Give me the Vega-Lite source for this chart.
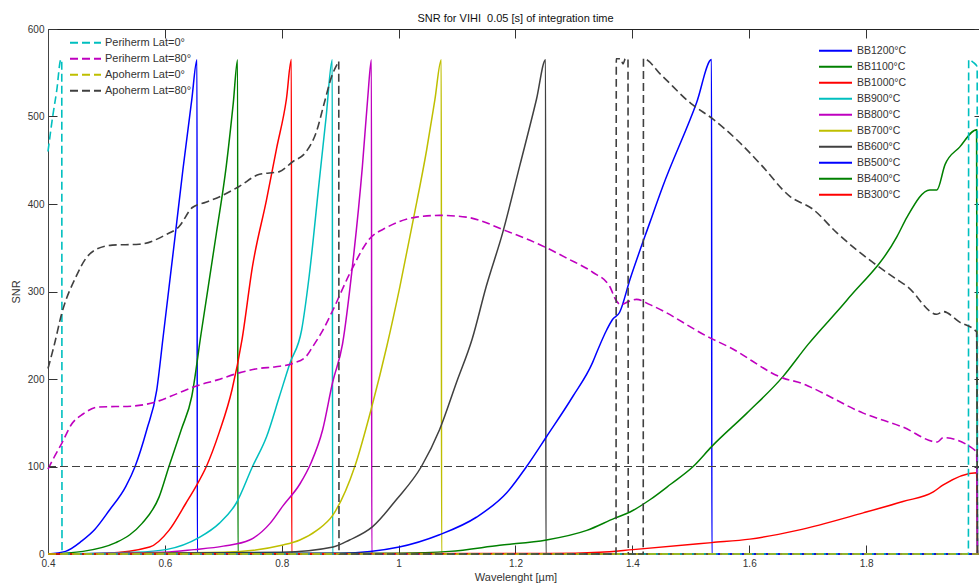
{
  "$schema": "https://vega.github.io/schema/vega-lite/v6.json",
  "width": 935,
  "height": 525,
  "autosize": {"type": "none"},
  "padding": {"left": 48, "top": 29, "right": 0, "bottom": 31},
  "background": "white",
  "title": {"text": "SNR for VIHI \u00a00.05 [s] of integration time", "font": "Liberation Sans", "fontSize": 11, "fontWeight": "normal", "color": "#111", "offset": 7, "baseline": "alphabetic", "anchor": "middle", "frame": "group", "dy": 16},
  "config": {
    "view": {"stroke": null},
    "axis": {"grid": false, "labelFont": "Liberation Sans", "titleFont": "Liberation Sans", "labelColor": "#333", "titleColor": "#333", "tickColor": "#333", "domainColor": "#444", "labelFontSize": 10, "titleFontSize": 11, "titleFontWeight": "normal", "labelFlush": false, "labelOverlap": false},
    "legend": {"labelFont": "Liberation Sans", "labelColor": "#333", "padding": 0, "title": null, "symbolType": "stroke", "symbolStrokeWidth": 2, "rowPadding": 0}
  },
  "datasets": {
    "bb": [
      {"s":"BB1200°C","x":0.4,"y":0},{"s":"BB1200°C","x":0.43,"y":3},{"s":"BB1200°C","x":0.458,"y":15},{"s":"BB1200°C","x":0.48,"y":28},{"s":"BB1200°C","x":0.505,"y":50},{"s":"BB1200°C","x":0.533,"y":77},{"s":"BB1200°C","x":0.549,"y":100},{"s":"BB1200°C","x":0.569,"y":142},{"s":"BB1200°C","x":0.586,"y":187},{"s":"BB1200°C","x":0.597,"y":248},{"s":"BB1200°C","x":0.618,"y":366},{"s":"BB1200°C","x":0.631,"y":440},{"s":"BB1200°C","x":0.646,"y":519},{"s":"BB1200°C","x":0.655,"y":565},{"s":"BB1200°C","x":0.6555,"y":0},{"s":"BB1200°C","x":2.0,"y":0},
      {"s":"BB1100°C","x":0.4,"y":0},{"s":"BB1100°C","x":0.46,"y":3},{"s":"BB1100°C","x":0.516,"y":13},{"s":"BB1100°C","x":0.54,"y":22},{"s":"BB1100°C","x":0.561,"y":35},{"s":"BB1100°C","x":0.59,"y":65},{"s":"BB1100°C","x":0.607,"y":100},{"s":"BB1100°C","x":0.628,"y":142},{"s":"BB1100°C","x":0.646,"y":180},{"s":"BB1100°C","x":0.662,"y":252},{"s":"BB1100°C","x":0.688,"y":366},{"s":"BB1100°C","x":0.705,"y":443},{"s":"BB1100°C","x":0.717,"y":515},{"s":"BB1100°C","x":0.7245,"y":565},{"s":"BB1100°C","x":0.725,"y":0},{"s":"BB1100°C","x":2.0,"y":0},
      {"s":"BB1000°C","x":0.4,"y":0},{"s":"BB1000°C","x":0.5,"y":1},{"s":"BB1000°C","x":0.574,"y":8},{"s":"BB1000°C","x":0.607,"y":27},{"s":"BB1000°C","x":0.636,"y":58},{"s":"BB1000°C","x":0.653,"y":77},{"s":"BB1000°C","x":0.671,"y":100},{"s":"BB1000°C","x":0.693,"y":139},{"s":"BB1000°C","x":0.715,"y":188},{"s":"BB1000°C","x":0.732,"y":245},{"s":"BB1000°C","x":0.75,"y":329},{"s":"BB1000°C","x":0.774,"y":405},{"s":"BB1000°C","x":0.791,"y":463},{"s":"BB1000°C","x":0.808,"y":520},{"s":"BB1000°C","x":0.8165,"y":565},{"s":"BB1000°C","x":0.817,"y":0},{"s":"BB1000°C","x":2.0,"y":0},
      {"s":"BB900°C","x":0.4,"y":0},{"s":"BB900°C","x":0.55,"y":2},{"s":"BB900°C","x":0.602,"y":5},{"s":"BB900°C","x":0.659,"y":19},{"s":"BB900°C","x":0.693,"y":35},{"s":"BB900°C","x":0.722,"y":58},{"s":"BB900°C","x":0.75,"y":100},{"s":"BB900°C","x":0.774,"y":134},{"s":"BB900°C","x":0.796,"y":180},{"s":"BB900°C","x":0.814,"y":218},{"s":"BB900°C","x":0.834,"y":256},{"s":"BB900°C","x":0.847,"y":318},{"s":"BB900°C","x":0.864,"y":425},{"s":"BB900°C","x":0.876,"y":500},{"s":"BB900°C","x":0.8865,"y":565},{"s":"BB900°C","x":0.887,"y":0},{"s":"BB900°C","x":2.0,"y":0},
      {"s":"BB800°C","x":0.4,"y":0},{"s":"BB800°C","x":0.6,"y":2},{"s":"BB800°C","x":0.65,"y":5},{"s":"BB800°C","x":0.7,"y":9},{"s":"BB800°C","x":0.745,"y":16},{"s":"BB800°C","x":0.78,"y":35},{"s":"BB800°C","x":0.802,"y":55},{"s":"BB800°C","x":0.831,"y":80},{"s":"BB800°C","x":0.85,"y":104},{"s":"BB800°C","x":0.87,"y":142},{"s":"BB800°C","x":0.887,"y":196},{"s":"BB800°C","x":0.904,"y":240},{"s":"BB800°C","x":0.921,"y":329},{"s":"BB800°C","x":0.938,"y":443},{"s":"BB800°C","x":0.947,"y":520},{"s":"BB800°C","x":0.9535,"y":565},{"s":"BB800°C","x":0.954,"y":0},{"s":"BB800°C","x":2.0,"y":0},
      {"s":"BB700°C","x":0.4,"y":0},{"s":"BB700°C","x":0.7,"y":2},{"s":"BB700°C","x":0.8,"y":10},{"s":"BB700°C","x":0.831,"y":16},{"s":"BB700°C","x":0.86,"y":27},{"s":"BB700°C","x":0.888,"y":45},{"s":"BB700°C","x":0.925,"y":100},{"s":"BB700°C","x":0.954,"y":168},{"s":"BB700°C","x":0.98,"y":238},{"s":"BB700°C","x":1.002,"y":305},{"s":"BB700°C","x":1.025,"y":382},{"s":"BB700°C","x":1.048,"y":462},{"s":"BB700°C","x":1.062,"y":519},{"s":"BB700°C","x":1.073,"y":565},{"s":"BB700°C","x":1.0735,"y":0},{"s":"BB700°C","x":2.0,"y":0},
      {"s":"BB600°C","x":0.4,"y":0},{"s":"BB600°C","x":0.8,"y":2},{"s":"BB600°C","x":0.888,"y":8},{"s":"BB600°C","x":0.916,"y":16},{"s":"BB600°C","x":0.955,"y":31},{"s":"BB600°C","x":0.996,"y":62},{"s":"BB600°C","x":1.039,"y":100},{"s":"BB600°C","x":1.07,"y":142},{"s":"BB600°C","x":1.099,"y":196},{"s":"BB600°C","x":1.126,"y":246},{"s":"BB600°C","x":1.15,"y":306},{"s":"BB600°C","x":1.178,"y":367},{"s":"BB600°C","x":1.207,"y":443},{"s":"BB600°C","x":1.236,"y":520},{"s":"BB600°C","x":1.2515,"y":565},{"s":"BB600°C","x":1.252,"y":0},{"s":"BB600°C","x":2.0,"y":0},
      {"s":"BB500°C","x":0.4,"y":0},{"s":"BB500°C","x":0.9,"y":1},{"s":"BB500°C","x":1.001,"y":8},{"s":"BB500°C","x":1.07,"y":22},{"s":"BB500°C","x":1.133,"y":42},{"s":"BB500°C","x":1.185,"y":70},{"s":"BB500°C","x":1.219,"y":100},{"s":"BB500°C","x":1.253,"y":134},{"s":"BB500°C","x":1.298,"y":180},{"s":"BB500°C","x":1.332,"y":219},{"s":"BB500°C","x":1.34,"y":232},{"s":"BB500°C","x":1.356,"y":256},{"s":"BB500°C","x":1.366,"y":268},{"s":"BB500°C","x":1.378,"y":276},{"s":"BB500°C","x":1.396,"y":314},{"s":"BB500°C","x":1.43,"y":379},{"s":"BB500°C","x":1.452,"y":420},{"s":"BB500°C","x":1.51,"y":516},{"s":"BB500°C","x":1.5355,"y":565},{"s":"BB500°C","x":1.536,"y":0},{"s":"BB500°C","x":2.0,"y":0},
      {"s":"BB400°C","x":0.4,"y":0},{"s":"BB400°C","x":1.0,"y":1},{"s":"BB400°C","x":1.087,"y":3},{"s":"BB400°C","x":1.173,"y":10},{"s":"BB400°C","x":1.253,"y":16},{"s":"BB400°C","x":1.322,"y":27},{"s":"BB400°C","x":1.37,"y":41},{"s":"BB400°C","x":1.396,"y":48},{"s":"BB400°C","x":1.43,"y":62},{"s":"BB400°C","x":1.466,"y":80},{"s":"BB400°C","x":1.504,"y":100},{"s":"BB400°C","x":1.536,"y":123},{"s":"BB400°C","x":1.596,"y":161},{"s":"BB400°C","x":1.658,"y":203},{"s":"BB400°C","x":1.7,"y":239},{"s":"BB400°C","x":1.767,"y":290},{"s":"BB400°C","x":1.853,"y":363},{"s":"BB400°C","x":1.87,"y":385},{"s":"BB400°C","x":1.909,"y":416},{"s":"BB400°C","x":1.921,"y":416},{"s":"BB400°C","x":1.935,"y":445},{"s":"BB400°C","x":1.96,"y":465},{"s":"BB400°C","x":1.989,"y":485},{"s":"BB400°C","x":1.9905,"y":0},
      {"s":"BB300°C","x":0.4,"y":0},{"s":"BB300°C","x":1.26,"y":0.5},{"s":"BB300°C","x":1.344,"y":2},{"s":"BB300°C","x":1.401,"y":5},{"s":"BB300°C","x":1.536,"y":13},{"s":"BB300°C","x":1.601,"y":17},{"s":"BB300°C","x":1.682,"y":27},{"s":"BB300°C","x":1.795,"y":47},{"s":"BB300°C","x":1.863,"y":60},{"s":"BB300°C","x":1.915,"y":71},{"s":"BB300°C","x":1.932,"y":79},{"s":"BB300°C","x":1.989,"y":93},{"s":"BB300°C","x":1.9905,"y":0}
    ],
    "dash": [
      {"s":"Periherm Lat=0°","x":0.4,"y":460},{"s":"Periherm Lat=0°","x":0.408,"y":500},{"s":"Periherm Lat=0°","x":0.415,"y":530},{"s":"Periherm Lat=0°","x":0.422,"y":565},{"s":"Periherm Lat=0°","x":0.4235,"y":565},{"s":"Periherm Lat=0°","x":0.424,"y":0},{"s":"Periherm Lat=0°","x":1.975,"y":0},{"s":"Periherm Lat=0°","x":1.9755,"y":565},{"s":"Periherm Lat=0°","x":1.983,"y":562},{"s":"Periherm Lat=0°","x":1.99,"y":557},{"s":"Periherm Lat=0°","x":1.9905,"y":0},
      {"s":"Periherm Lat=80°","x":0.4,"y":97},{"s":"Periherm Lat=80°","x":0.41,"y":110},{"s":"Periherm Lat=80°","x":0.424,"y":127},{"s":"Periherm Lat=80°","x":0.44,"y":148},{"s":"Periherm Lat=80°","x":0.46,"y":160},{"s":"Periherm Lat=80°","x":0.487,"y":168},{"s":"Periherm Lat=80°","x":0.544,"y":169},{"s":"Periherm Lat=80°","x":0.59,"y":175},{"s":"Periherm Lat=80°","x":0.62,"y":183},{"s":"Periherm Lat=80°","x":0.654,"y":192},{"s":"Periherm Lat=80°","x":0.69,"y":199},{"s":"Periherm Lat=80°","x":0.727,"y":207},{"s":"Periherm Lat=80°","x":0.76,"y":212},{"s":"Periherm Lat=80°","x":0.79,"y":214},{"s":"Periherm Lat=80°","x":0.82,"y":218},{"s":"Periherm Lat=80°","x":0.842,"y":226},{"s":"Periherm Lat=80°","x":0.852,"y":236},{"s":"Periherm Lat=80°","x":0.868,"y":253},{"s":"Periherm Lat=80°","x":0.887,"y":278},{"s":"Periherm Lat=80°","x":0.916,"y":320},{"s":"Periherm Lat=80°","x":0.95,"y":360},{"s":"Periherm Lat=80°","x":0.979,"y":373},{"s":"Periherm Lat=80°","x":1.03,"y":385},{"s":"Periherm Lat=80°","x":1.07,"y":387},{"s":"Periherm Lat=80°","x":1.116,"y":385},{"s":"Periherm Lat=80°","x":1.185,"y":369},{"s":"Periherm Lat=80°","x":1.253,"y":350},{"s":"Periherm Lat=80°","x":1.288,"y":338},{"s":"Periherm Lat=80°","x":1.332,"y":322},{"s":"Periherm Lat=80°","x":1.361,"y":306},{"s":"Periherm Lat=80°","x":1.372,"y":290},{"s":"Periherm Lat=80°","x":1.38,"y":285},{"s":"Periherm Lat=80°","x":1.395,"y":289},{"s":"Periherm Lat=80°","x":1.407,"y":291},{"s":"Periherm Lat=80°","x":1.43,"y":285},{"s":"Periherm Lat=80°","x":1.533,"y":247},{"s":"Periherm Lat=80°","x":1.567,"y":236},{"s":"Periherm Lat=80°","x":1.658,"y":201},{"s":"Periherm Lat=80°","x":1.69,"y":195},{"s":"Periherm Lat=80°","x":1.704,"y":191},{"s":"Periherm Lat=80°","x":1.795,"y":161},{"s":"Periherm Lat=80°","x":1.863,"y":145},{"s":"Periherm Lat=80°","x":1.922,"y":128},{"s":"Periherm Lat=80°","x":1.932,"y":133},{"s":"Periherm Lat=80°","x":1.989,"y":117},{"s":"Periherm Lat=80°","x":1.9905,"y":0},
      {"s":"Apoherm Lat=0°","x":0.4,"y":0},{"s":"Apoherm Lat=0°","x":2.0,"y":0},
      {"s":"Apoherm Lat=80°","x":0.4,"y":212},{"s":"Apoherm Lat=80°","x":0.41,"y":237},{"s":"Apoherm Lat=80°","x":0.424,"y":276},{"s":"Apoherm Lat=80°","x":0.448,"y":317},{"s":"Apoherm Lat=80°","x":0.465,"y":338},{"s":"Apoherm Lat=80°","x":0.482,"y":348},{"s":"Apoherm Lat=80°","x":0.51,"y":353},{"s":"Apoherm Lat=80°","x":0.556,"y":354},{"s":"Apoherm Lat=80°","x":0.602,"y":365},{"s":"Apoherm Lat=80°","x":0.624,"y":374},{"s":"Apoherm Lat=80°","x":0.647,"y":396},{"s":"Apoherm Lat=80°","x":0.67,"y":402},{"s":"Apoherm Lat=80°","x":0.693,"y":408},{"s":"Apoherm Lat=80°","x":0.727,"y":420},{"s":"Apoherm Lat=80°","x":0.762,"y":434},{"s":"Apoherm Lat=80°","x":0.796,"y":437},{"s":"Apoherm Lat=80°","x":0.818,"y":448},{"s":"Apoherm Lat=80°","x":0.842,"y":460},{"s":"Apoherm Lat=80°","x":0.859,"y":482},{"s":"Apoherm Lat=80°","x":0.873,"y":516},{"s":"Apoherm Lat=80°","x":0.885,"y":545},{"s":"Apoherm Lat=80°","x":0.895,"y":560},{"s":"Apoherm Lat=80°","x":0.8975,"y":563},{"s":"Apoherm Lat=80°","x":0.898,"y":0},{"s":"Apoherm Lat=80°","x":1.372,"y":0},{"s":"Apoherm Lat=80°","x":1.3725,"y":566},{"s":"Apoherm Lat=80°","x":1.38,"y":566},{"s":"Apoherm Lat=80°","x":1.384,"y":560},{"s":"Apoherm Lat=80°","x":1.388,"y":566},{"s":"Apoherm Lat=80°","x":1.3925,"y":566},{"s":"Apoherm Lat=80°","x":1.393,"y":0},{"s":"Apoherm Lat=80°","x":1.4185,"y":0},{"s":"Apoherm Lat=80°","x":1.419,"y":566},{"s":"Apoherm Lat=80°","x":1.45,"y":547},{"s":"Apoherm Lat=80°","x":1.5,"y":515},{"s":"Apoherm Lat=80°","x":1.538,"y":497},{"s":"Apoherm Lat=80°","x":1.584,"y":470},{"s":"Apoherm Lat=80°","x":1.62,"y":445},{"s":"Apoherm Lat=80°","x":1.669,"y":409},{"s":"Apoherm Lat=80°","x":1.709,"y":394},{"s":"Apoherm Lat=80°","x":1.75,"y":367},{"s":"Apoherm Lat=80°","x":1.812,"y":333},{"s":"Apoherm Lat=80°","x":1.85,"y":315},{"s":"Apoherm Lat=80°","x":1.87,"y":306},{"s":"Apoherm Lat=80°","x":1.921,"y":274},{"s":"Apoherm Lat=80°","x":1.932,"y":277},{"s":"Apoherm Lat=80°","x":1.96,"y":265},{"s":"Apoherm Lat=80°","x":1.989,"y":254},{"s":"Apoherm Lat=80°","x":1.9905,"y":0}
    ],
    "ref": [{"x":0.4,"y":100},{"x":2.0,"y":100}]
  },
  "layer": [
    {
      "data": {"name": "bb"},
      "mark": {"type": "line", "strokeWidth": 1.5, "interpolate": "monotone"},
      "encoding": {
        "x": {"field": "x", "type": "quantitative", "scale": {"domain": [0.4, 2.0], "nice": false, "zero": false},
              "axis": {"orient": "bottom", "values": [0.4, 0.6, 0.8, 1, 1.2, 1.4, 1.6, 1.8], "format": "~g", "tickSize": -9, "labelPadding": 13, "title": "Wavelenght [µm]", "titlePadding": 3}},
        "y": {"field": "y", "type": "quantitative", "scale": {"domain": [0, 600], "nice": false},
              "axis": {"orient": "left", "values": [0, 100, 200, 300, 400, 500, 600], "tickSize": -9, "labelPadding": 13, "title": "SNR", "titlePadding": 6}},
        "color": {"field": "s", "type": "nominal",
                  "scale": {"domain": ["BB1200°C","BB1100°C","BB1000°C","BB900°C","BB800°C","BB700°C","BB600°C","BB500°C","BB400°C","BB300°C"],
                            "range": ["#0000ff","#008000","#ff0000","#00bfbf","#bf00bf","#bfbf00","#404040","#0000ff","#008000","#ff0000"]},
                  "legend": {"orient": "none", "legendX": 770, "legendY": 14, "symbolSize": 1089, "labelFontSize": 10.5, "labelOffset": 4, "clipHeight": 15.45}}
      }
    },
    {
      "data": {"name": "dash"},
      "mark": {"type": "line", "strokeWidth": 1.6, "strokeDash": [8, 4], "interpolate": "monotone"},
      "encoding": {
        "x": {"field": "x", "type": "quantitative", "axis": null},
        "y": {"field": "y", "type": "quantitative", "axis": null},
        "color": {"field": "s", "type": "nominal",
                  "scale": {"domain": ["Periherm Lat=0°","Periherm Lat=80°","Apoherm Lat=0°","Apoherm Lat=80°"],
                            "range": ["#00bfbf","#bf00bf","#bfbf00","#404040"]},
                  "legend": {"orient": "none", "legendX": 21, "legendY": 6, "symbolSize": 961, "symbolDash": [8, 4], "labelFontSize": 11, "labelOffset": 3, "clipHeight": 15.3}}
      }
    },
    {
      "data": {"name": "ref"},
      "mark": {"type": "line", "strokeWidth": 1, "strokeDash": [8, 4], "color": "#404040"},
      "encoding": {
        "x": {"field": "x", "type": "quantitative", "axis": {"orient": "top", "values": [0.4, 0.6, 0.8, 1, 1.2, 1.4, 1.6, 1.8, 2], "labels": false, "tickSize": -9, "title": null, "domainColor": "#222"}},
        "y": {"field": "y", "type": "quantitative", "axis": {"orient": "right", "values": [0, 100, 200, 300, 400, 500, 600], "labels": false, "tickSize": -9, "title": null}}
      }
    }
  ],
  "resolve": {"scale": {"color": "independent"}, "axis": {"x": "independent", "y": "independent"}}
}
